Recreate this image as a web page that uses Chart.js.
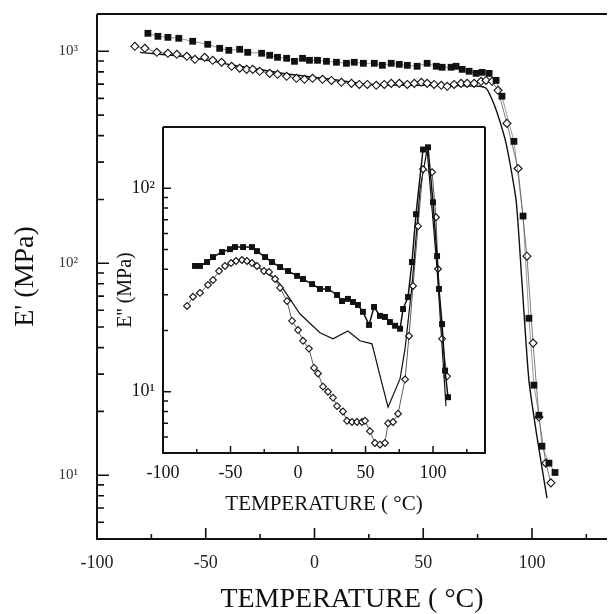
<!DOCTYPE html>
<html lang="en">
<head>
<meta charset="UTF-8">
<title>E' and E'' versus temperature</title>
<style>
  body { margin: 0; background: #fff; }
  #wrap { position: relative; width: 608px; height: 614px; overflow: hidden; }
  #main-chart { position: absolute; left: 0; top: 0; }
  #inset-chart { position: absolute; left: 100px; top: 112px; }
</style>
</head>
<body>
<div id="wrap">
  <canvas id="main-chart" width="608" height="614"></canvas>
  <canvas id="inset-chart" width="395" height="410"></canvas>
</div>
<script src="https://cdn.jsdelivr.net/npm/chart.js"></script>
<script>
// ---- main panel: storage modulus E' (MPa) vs temperature (C) ----
const mainSquareT = [-76.6, -72.0, -67.4, -62.4, -56.0, -49.1, -43.6, -39.4, -34.4, -30.7, -24.3, -20.6, -17.0, -12.8, -9.2, -5.5, -2.3, 1.4, 5.5, 10.1, 14.7, 18.3, 22.5, 27.5, 31.2, 35.3, 39.0, 42.7, 47.2, 51.8, 56.0, 58.7, 62.8, 65.1, 67.9, 71.1, 74.3, 77.1, 80.3, 83.5, 86.2, 91.7, 95.9, 98.6, 100.9, 103.2, 104.6, 107.8, 110.6];
const mainSquareE = [1216, 1177, 1164, 1152, 1115, 1079, 1033, 1011, 1022, 989, 979, 958, 937, 927, 897, 927, 907, 907, 897, 888, 878, 888, 878, 878, 859, 878, 868, 859, 850, 878, 850, 841, 841, 850, 822, 805, 787, 796, 787, 729, 614, 376, 167, 55, 26.6, 19.2, 13.7, 11.4, 10.3];

const mainDiamondT = [-82.6, -78.0, -72.5, -67.4, -63.3, -58.7, -55.0, -50.5, -46.8, -42.7, -38.1, -34.4, -31.2, -28.4, -25.2, -20.6, -17.0, -12.8, -8.3, -4.6, -0.9, 3.7, 7.8, 12.4, 17.0, 20.6, 24.3, 28.4, 32.1, 35.3, 39.0, 42.7, 45.9, 49.1, 51.8, 55.0, 58.3, 61.0, 64.2, 67.4, 70.2, 73.4, 76.6, 78.9, 81.7, 84.4, 88.5, 93.6, 97.7, 100.5, 103.2, 106.4, 108.7];
const mainDiamondE = [1056, 1033, 989, 979, 968, 947, 917, 937, 907, 888, 850, 832, 822, 822, 805, 787, 779, 762, 746, 738, 746, 738, 729, 714, 706, 698, 698, 691, 698, 706, 706, 698, 706, 714, 706, 698, 691, 684, 698, 706, 706, 706, 722, 729, 722, 655, 457, 280, 108, 42, 18.8, 11.4, 9.2];

const mainLineT = [-80.3, -57.3, -34.4, -11.5, 11.5, 20.6, 39.0, 60.6, 75.7, 78.9, 81.2, 83.9, 88.1, 92.7, 95.4, 98.6, 102.3, 106.9];
const mainLineE = [989, 937, 850, 779, 729, 706, 691, 691, 684, 669, 607, 516, 368, 198, 81, 28, 15.2, 7.8];

// ---- inset: loss modulus E'' (MPa) vs temperature (C) ----
const insetSquareT = [-76.3, -72.6, -67.4, -63.0, -56.3, -50.4, -46.7, -40.7, -34.1, -30.4, -24.4, -19.3, -13.3, -7.4, -0.7, 3.7, 10.4, 16.3, 22.2, 28.9, 32.6, 37.0, 40.7, 44.4, 48.1, 52.6, 56.3, 60.7, 64.4, 68.1, 71.9, 75.6, 77.8, 81.5, 84.4, 87.4, 92.6, 96.3, 100.0, 103.0, 104.4, 106.7, 108.9, 111.1];
const insetSquareE = [41.5, 41.5, 43.4, 45.9, 48.6, 50.2, 51.4, 51.4, 51.4, 49.1, 45.9, 43.4, 41.0, 39.2, 37.1, 35.8, 33.8, 32.0, 32.0, 29.9, 27.9, 28.6, 27.6, 26.7, 24.7, 21.3, 26.1, 23.6, 23.3, 22.0, 21.1, 20.4, 25.5, 29.2, 43.4, 74.6, 155, 159, 85.3, 46.4, 32.0, 21.5, 12.7, 9.4];

const insetDiamondT = [-82.2, -77.8, -72.6, -66.7, -63.0, -58.5, -54.1, -49.6, -45.9, -41.5, -37.8, -34.1, -30.4, -25.2, -21.5, -17.0, -13.3, -8.1, -4.4, 0.0, 3.7, 8.1, 11.9, 14.8, 18.5, 22.2, 25.9, 28.9, 33.3, 36.3, 40.0, 43.7, 47.4, 49.6, 53.3, 57.0, 60.7, 64.4, 66.7, 70.4, 74.1, 79.3, 82.2, 85.2, 88.9, 92.6, 99.3, 102.2, 103.7, 106.7, 110.4];
const insetDiamondE = [26.4, 29.3, 30.6, 33.5, 35.4, 39.2, 41.5, 42.9, 43.9, 44.4, 43.9, 42.9, 41.5, 39.2, 38.8, 35.8, 32.4, 27.9, 22.3, 20.1, 17.8, 16.3, 13.1, 12.3, 10.6, 10.0, 9.35, 8.5, 8.0, 7.2, 7.1, 7.1, 7.1, 7.2, 6.4, 5.6, 5.5, 5.6, 7.0, 7.1, 7.8, 11.5, 18.8, 33.1, 65.1, 124, 120, 72, 40.1, 18.2, 11.9];

const insetLineT = [-41.5, -34.1, -25.2, -17.0, -13.3, 1.5, 16.3, 25.9, 37.0, 45.9, 54.8, 60.7, 66.7, 75.6, 79.3, 84.4, 90.4, 95.6, 103.0, 109.6];
const insetLineE = [44.4, 42.9, 39.2, 35.8, 33.8, 24.1, 19.5, 18.2, 19.9, 17.8, 17.2, 12.0, 8.4, 11.6, 16.3, 33.1, 98.9, 155, 40.1, 8.5];

// tick labels
const decadeValues = [10, 100, 1000];
const decadeLabels = ['10¹', '10²', '10³'];

const serif = "'Liberation Serif', 'DejaVu Serif', serif";

function toXY(xs, ys) {
  return xs.map((x, i) => ({ x: x, y: ys[i] }));
}

function decadeLabel(v) {
  const i = decadeValues.indexOf(v);
  return i >= 0 ? decadeLabels[i] : '';
}

// fixed axis size, no extra label padding pushed onto the plot area
function fixSize(w, h) {
  return s => {
    if (w) s.width = w;
    if (h) s.height = h;
    s.paddingTop = 0;
    s.paddingBottom = 0;
    s.paddingLeft = 0;
    s.paddingRight = 0;
  };
}

// box on left/bottom/top and inward tick marks
const frameTicks = {
  id: 'frameTicks',
  afterDraw(chart, args, o) {
    const { ctx, chartArea: a, scales: { x, y } } = chart;
    ctx.save();
    ctx.strokeStyle = '#111';
    ctx.lineWidth = o.lw;
    ctx.beginPath();
    ctx.moveTo(a.left, a.top);
    ctx.lineTo(a.left, a.bottom);
    ctx.lineTo(a.right, a.bottom);
    if (o.right) ctx.lineTo(a.right, a.top);
    ctx.moveTo(a.left, a.top);
    ctx.lineTo(a.right, a.top);
    ctx.stroke();

    ctx.lineWidth = o.tw;
    ctx.beginPath();
    for (let v = x.min; v <= x.max; v += 25) {
      const px = x.getPixelForValue(v);
      const len = v % 50 === 0 ? o.xMajor : o.xMinor;
      ctx.moveTo(px, a.bottom);
      ctx.lineTo(px, a.bottom - len);
    }
    for (let e = 0; e <= 3; e++) {
      for (let k = 1; k <= 9; k++) {
        const v = k * Math.pow(10, e);
        if (v < y.min || v > y.max) continue;
        const py = y.getPixelForValue(v);
        const len = k === 1 ? o.yMajor : o.yMinor;
        ctx.moveTo(a.left, py);
        ctx.lineTo(a.left + len, py);
      }
    }
    ctx.stroke();
    ctx.restore();
  }
};

new Chart(document.getElementById('main-chart'), {
  type: 'scatter',
  data: {
    datasets: [
      {
        data: toXY(mainSquareT, mainSquareE),
        showLine: true, borderColor: '#555', borderWidth: 0.6,
        pointStyle: 'rect', pointRadius: 4.8,
        pointBackgroundColor: '#111', pointBorderColor: '#111', pointBorderWidth: 0,
        order: 1
      },
      {
        data: toXY(mainDiamondT, mainDiamondE),
        showLine: true, borderColor: '#444', borderWidth: 0.7,
        pointStyle: 'rectRot', pointRadius: 4,
        pointBackgroundColor: '#fff', pointBorderColor: '#111', pointBorderWidth: 1.1,
        order: 2
      },
      {
        data: toXY(mainLineT, mainLineE),
        showLine: true, borderColor: '#111', borderWidth: 1.4,
        pointRadius: 0, tension: 0.2,
        order: 3
      }
    ]
  },
  options: {
    responsive: false,
    animation: false,
    layout: { autoPadding: false, padding: { top: 14, right: 1, left: 0, bottom: 0 } },
    plugins: {
      legend: { display: false },
      tooltip: { enabled: false },
      frameTicks: { lw: 2, tw: 1.6, right: false, xMajor: 11, xMinor: 5, yMajor: 12, yMinor: 7 }
    },
    scales: {
      x: {
        type: 'linear', min: -100, max: 134.5,
        afterFit: fixSize(0, 75),
        grid: { display: false, drawTicks: false },
        border: { display: false },
        ticks: {
          stepSize: 50, includeBounds: false, padding: 13, autoSkip: false, maxRotation: 0,
          color: '#222', font: { family: serif, size: 18 },
          callback: v => (v % 50 === 0 ? String(v) : '')
        },
        title: {
          display: true, text: 'TEMPERATURE ( °C)', color: '#111',
          font: { family: serif, size: 28, lineHeight: 1 },
          padding: { top: 0, bottom: 0 }
        }
      },
      y: {
        type: 'logarithmic', min: 5, max: 1500,
        afterFit: fixSize(97, 0),
        grid: { display: false, drawTicks: false },
        border: { display: false },
        ticks: {
          padding: 19, autoSkip: false,
          color: '#333', font: { family: serif, size: 15 },
          callback: v => decadeLabel(v)
        },
        title: {
          display: true, text: "E' (MPa)", color: '#111',
          font: { family: serif, size: 28, lineHeight: 1 },
          padding: { top: 12, bottom: 0 }
        }
      }
    }
  },
  plugins: [frameTicks]
});

new Chart(document.getElementById('inset-chart'), {
  type: 'scatter',
  data: {
    datasets: [
      {
        data: toXY(insetSquareT, insetSquareE),
        showLine: true, borderColor: '#111', borderWidth: 1.5,
        pointStyle: 'rect', pointRadius: 4.2,
        pointBackgroundColor: '#111', pointBorderColor: '#111', pointBorderWidth: 0,
        order: 1
      },
      {
        data: toXY(insetDiamondT, insetDiamondE),
        showLine: true, borderColor: '#333', borderWidth: 0.8,
        pointStyle: 'rectRot', pointRadius: 3.4,
        pointBackgroundColor: '#fff', pointBorderColor: '#111', pointBorderWidth: 1.1,
        order: 2
      },
      {
        data: toXY(insetLineT, insetLineE),
        showLine: true, borderColor: '#111', borderWidth: 1.2,
        pointRadius: 0,
        order: 3
      }
    ]
  },
  options: {
    responsive: false,
    animation: false,
    layout: { autoPadding: false, padding: { top: 15, right: 10, left: 0, bottom: 0 } },
    plugins: {
      legend: { display: false },
      tooltip: { enabled: false },
      frameTicks: { lw: 2, tw: 1.5, right: true, xMajor: 7, xMinor: 4, yMajor: 8, yMinor: 5 }
    },
    scales: {
      x: {
        type: 'linear', min: -100, max: 138.5,
        afterFit: fixSize(0, 69),
        grid: { display: false, drawTicks: false },
        border: { display: false },
        ticks: {
          stepSize: 50, includeBounds: false, padding: 9, autoSkip: false, maxRotation: 0,
          color: '#111', font: { family: serif, size: 18 },
          callback: v => (v % 50 === 0 ? String(v) : '')
        },
        title: {
          display: true, text: 'TEMPERATURE ( °C)', color: '#111',
          font: { family: serif, size: 21, lineHeight: 1 },
          padding: { top: 0, bottom: 7 }
        }
      },
      y: {
        type: 'logarithmic', min: 5, max: 200,
        afterFit: fixSize(63, 0),
        grid: { display: false, drawTicks: false },
        border: { display: false },
        ticks: {
          padding: 8, autoSkip: false,
          color: '#111', font: { family: serif, size: 18 },
          callback: v => decadeLabel(v)
        },
        title: {
          display: true, text: "E'' (MPa)", color: '#111',
          font: { family: serif, size: 20, lineHeight: 1 },
          padding: { top: 16, bottom: 0 }
        }
      }
    }
  },
  plugins: [frameTicks]
});
</script>
</body>
</html>
